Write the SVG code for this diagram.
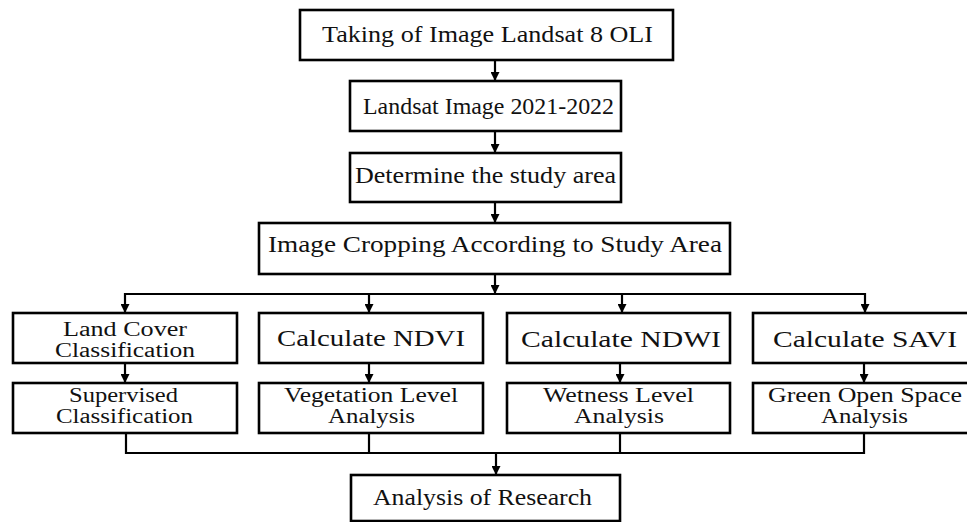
<svg xmlns="http://www.w3.org/2000/svg" width="967" height="522" viewBox="0 0 967 522">
<style>
.box{fill:#fff;stroke:#000;stroke-width:2.6}
.t{font-family:'Times New Roman','Liberation Serif',Times,serif;font-size:24px;fill:#111}
.s{font-family:'Times New Roman','Liberation Serif',Times,serif;font-size:20px;fill:#111}
.c{fill:none;stroke:#000;stroke-width:2.2}
</style>
<defs>
<marker id="ah" viewBox="0 0 10 10" refX="10" refY="5" markerWidth="9" markerHeight="9" markerUnits="userSpaceOnUse" orient="auto">
<path d="M0,0 L10,5 L0,10 z" fill="#000"/>
</marker>
</defs>
<rect width="967" height="522" fill="#fff"/>
<g id="connectors">
<line class="c" x1="495" y1="60" x2="495" y2="81" marker-end="url(#ah)"/>
<line class="c" x1="495" y1="131" x2="495" y2="153" marker-end="url(#ah)"/>
<line class="c" x1="495" y1="202" x2="495" y2="223" marker-end="url(#ah)"/>
<line class="c" x1="495" y1="274" x2="495" y2="294" marker-end="url(#ah)"/>
<line class="c" x1="125" y1="294" x2="865" y2="294"/>
<line class="c" x1="125" y1="293" x2="125" y2="313" marker-end="url(#ah)"/>
<line class="c" x1="369" y1="294" x2="369" y2="313" marker-end="url(#ah)"/>
<line class="c" x1="622" y1="294" x2="622" y2="313" marker-end="url(#ah)"/>
<line class="c" x1="865" y1="293" x2="865" y2="313" marker-end="url(#ah)"/>
<line class="c" x1="125" y1="363" x2="125" y2="383" marker-end="url(#ah)"/>
<line class="c" x1="369" y1="363" x2="369" y2="383" marker-end="url(#ah)"/>
<line class="c" x1="620" y1="363" x2="620" y2="383" marker-end="url(#ah)"/>
<line class="c" x1="864" y1="363" x2="864" y2="383" marker-end="url(#ah)"/>
<polyline class="c" points="126,433 126,453 864,453 864,433"/>
<line class="c" x1="369" y1="433" x2="369" y2="453"/>
<line class="c" x1="620" y1="433" x2="620" y2="453"/>
<line class="c" x1="496" y1="453" x2="496" y2="475" marker-end="url(#ah)"/>
</g>
<g id="n1"><rect class="box" x="300" y="10" width="373" height="50"/><text class="t" x="322" y="42" textLength="331" lengthAdjust="spacingAndGlyphs">Taking of Image Landsat 8 OLI</text></g>
<g id="n2"><rect class="box" x="350" y="81" width="271" height="50"/><text class="t" x="363" y="114" textLength="251" lengthAdjust="spacingAndGlyphs">Landsat Image 2021-2022</text></g>
<g id="n3"><rect class="box" x="350" y="153" width="271" height="49"/><text class="t" x="355" y="183" textLength="261" lengthAdjust="spacingAndGlyphs">Determine the study area</text></g>
<g id="n4"><rect class="box" x="259" y="223" width="471" height="51"/><text class="t" x="268" y="252" textLength="454" lengthAdjust="spacingAndGlyphs">Image Cropping According to Study Area</text></g>
<g id="n5"><rect class="box" x="13" y="313" width="224" height="50"/><text class="s" x="63" y="336" textLength="124" lengthAdjust="spacingAndGlyphs">Land Cover</text><text class="s" x="55" y="357" textLength="140" lengthAdjust="spacingAndGlyphs">Classification</text></g>
<g id="n6"><rect class="box" x="259" y="313" width="224" height="50"/><text class="t" x="277" y="346" textLength="188" lengthAdjust="spacingAndGlyphs">Calculate NDVI</text></g>
<g id="n7"><rect class="box" x="507" y="313" width="223" height="50"/><text class="t" x="521" y="347" textLength="200" lengthAdjust="spacingAndGlyphs">Calculate NDWI</text></g>
<g id="n8"><rect class="box" x="753" y="313" width="220" height="50"/><text class="t" x="773" y="347" textLength="184" lengthAdjust="spacingAndGlyphs">Calculate SAVI</text></g>
<g id="n9"><rect class="box" x="13" y="383" width="224" height="50"/><text class="s" x="69" y="402" textLength="109" lengthAdjust="spacingAndGlyphs">Supervised</text><text class="s" x="56" y="423" textLength="137" lengthAdjust="spacingAndGlyphs">Classification</text></g>
<g id="n10"><rect class="box" x="259" y="383" width="224" height="50"/><text class="s" x="284" y="402" textLength="174" lengthAdjust="spacingAndGlyphs">Vegetation Level</text><text class="s" x="328" y="423" textLength="87" lengthAdjust="spacingAndGlyphs">Analysis</text></g>
<g id="n11"><rect class="box" x="507" y="383" width="223" height="50"/><text class="s" x="543" y="402" textLength="151" lengthAdjust="spacingAndGlyphs">Wetness Level</text><text class="s" x="574" y="423" textLength="90" lengthAdjust="spacingAndGlyphs">Analysis</text></g>
<g id="n12"><rect class="box" x="753" y="383" width="220" height="50"/><text class="s" x="768" y="402" textLength="194" lengthAdjust="spacingAndGlyphs">Green Open Space</text><text class="s" x="821" y="423" textLength="87" lengthAdjust="spacingAndGlyphs">Analysis</text></g>
<g id="n13"><rect class="box" x="351" y="475" width="269" height="46"/><text class="t" x="373" y="505" textLength="219" lengthAdjust="spacingAndGlyphs">Analysis of Research</text></g>
</svg>
